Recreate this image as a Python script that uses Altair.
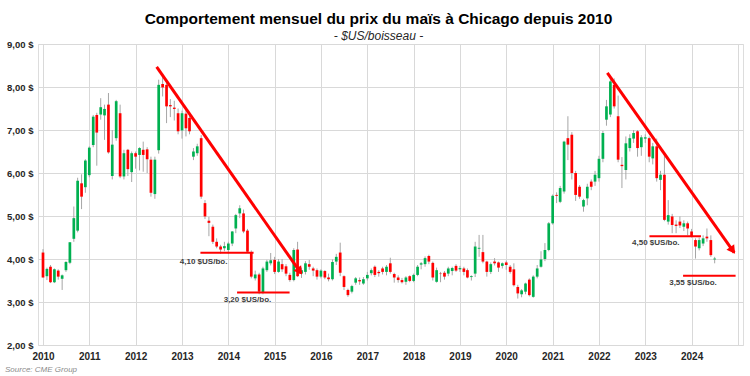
import math
import altair as alt
import pandas as pd

FONT = "Liberation Sans Narrow, Liberation Sans, Arial, sans-serif"

# ---------------- data (monthly OHLC, $US/boisseau, from Jan 2010) ----------------
start_month = "2010-01-01"

opens = [
    4.15, 3.60, 3.82, 3.46, 3.73, 3.54, 3.74, 3.91, 4.47, 4.66, 5.76, 5.67,
    5.95, 6.65, 7.35, 7.36, 7.34, 7.59, 5.93, 6.81, 7.39, 5.92, 6.54, 6.02,
    6.46, 6.42, 6.54, 6.55, 6.31, 5.51, 6.53, 8.07, 8.05, 7.58, 7.52, 7.39,
    6.99, 7.38, 7.28, 6.38, 6.46, 6.81, 5.30, 4.89, 4.75, 4.40, 4.29, 4.25,
    4.21, 4.36, 4.71, 5.06, 5.06, 4.66, 4.15, 3.55, 3.64, 3.22, 3.74, 3.90,
    3.98, 3.70, 3.88, 3.83, 3.63, 3.51, 4.22, 3.66, 3.70, 3.88, 3.78, 3.74,
    3.59, 3.72, 3.57, 3.53, 3.94, 4.15, 3.60, 3.28, 3.24, 3.45, 3.51, 3.43,
    3.55, 3.67, 3.82, 3.70, 3.78, 3.70, 3.90, 3.65, 3.57, 3.51, 3.47, 3.60,
    3.49, 3.63, 3.87, 3.88, 4.07, 3.91, 3.47, 3.66, 3.68, 3.66, 3.72, 3.84,
    3.76, 3.78, 3.74, 3.58, 3.66, 4.24, 4.16, 3.94, 3.70, 3.94, 3.92, 3.84,
    3.92, 3.82, 3.76, 3.35, 3.18, 3.24, 3.52, 3.12, 3.59, 3.82, 4.00, 4.21,
    4.83, 5.49, 5.33, 5.57, 6.81, 6.89, 6.00, 5.68, 5.22, 5.41, 5.80, 5.80,
    5.88, 6.33, 7.24, 7.36, 8.05, 7.32, 6.19, 6.07, 6.58, 6.80, 6.97, 6.60,
    6.80, 6.81, 6.34, 6.62, 5.84, 5.96, 4.87, 4.99, 4.80, 4.87, 4.75, 4.83,
    4.64, 4.44, 4.25, 4.36, 4.52, 4.44, 3.99,
]
highs = [
    4.23, 3.80, 3.86, 3.78, 3.76, 3.64, 3.95, 4.39, 5.22, 5.89, 5.97, 6.32,
    6.62, 7.35, 7.40, 7.74, 7.59, 7.86, 7.00, 7.70, 7.59, 6.54, 6.56, 6.50,
    6.50, 6.60, 6.73, 6.60, 6.38, 6.38, 8.17, 8.30, 8.10, 7.72, 7.68, 7.50,
    7.45, 7.46, 7.35, 6.58, 6.68, 6.88, 5.37, 4.98, 4.80, 4.48, 4.33, 4.40,
    4.40, 4.65, 5.05, 5.25, 5.15, 4.70, 4.20, 3.73, 3.68, 3.82, 3.98, 4.14,
    4.05, 4.00, 4.00, 3.88, 3.68, 4.25, 4.40, 3.80, 3.95, 3.98, 3.82, 3.78,
    3.76, 3.74, 3.66, 3.99, 4.12, 4.38, 3.62, 3.31, 3.40, 3.58, 3.57, 3.58,
    3.70, 3.78, 3.85, 3.74, 3.82, 3.86, 4.03, 3.68, 3.62, 3.56, 3.60, 3.62,
    3.66, 3.86, 3.93, 4.06, 4.10, 3.94, 3.80, 3.70, 3.72, 3.82, 3.82, 3.88,
    3.84, 3.82, 3.78, 3.62, 4.40, 4.56, 4.56, 3.96, 3.92, 4.02, 3.94, 3.92,
    3.96, 3.86, 3.90, 3.40, 3.30, 3.45, 3.55, 3.62, 3.86, 4.18, 4.37, 4.86,
    5.50, 5.55, 5.70, 6.75, 7.32, 6.95, 6.05, 5.72, 5.40, 5.75, 5.85, 6.05,
    6.40, 6.98, 7.70, 8.20, 8.20, 7.80, 6.37, 6.85, 6.90, 7.00, 7.00, 6.88,
    6.90, 6.85, 6.70, 6.80, 6.05, 6.45, 5.37, 5.05, 4.90, 4.99, 4.90, 4.87,
    4.70, 4.48, 4.50, 4.55, 4.71, 4.55, 4.05,
]
lows = [
    3.57, 3.51, 3.44, 3.44, 3.52, 3.28, 3.70, 3.88, 4.40, 4.62, 5.16, 5.54,
    5.90, 6.60, 6.17, 7.24, 6.77, 6.45, 5.85, 6.75, 5.88, 5.85, 5.93, 5.79,
    6.10, 6.06, 6.03, 6.00, 5.45, 5.40, 6.45, 7.78, 7.16, 7.30, 7.22, 6.90,
    6.80, 6.85, 6.90, 6.30, 6.40, 5.40, 4.93, 4.53, 4.35, 4.25, 4.12, 4.18,
    4.12, 4.30, 4.60, 4.95, 4.60, 4.15, 3.55, 3.50, 3.18, 3.18, 3.70, 3.85,
    3.65, 3.68, 3.70, 3.60, 3.47, 3.48, 3.58, 3.56, 3.64, 3.75, 3.60, 3.52,
    3.55, 3.53, 3.48, 3.50, 3.86, 3.60, 3.28, 3.12, 3.20, 3.40, 3.40, 3.40,
    3.50, 3.62, 3.58, 3.59, 3.64, 3.62, 3.66, 3.45, 3.45, 3.43, 3.40, 3.46,
    3.46, 3.60, 3.76, 3.82, 3.88, 3.50, 3.45, 3.46, 3.52, 3.60, 3.62, 3.70,
    3.70, 3.62, 3.55, 3.50, 3.58, 4.05, 3.90, 3.59, 3.65, 3.85, 3.70, 3.78,
    3.75, 3.66, 3.36, 3.08, 3.11, 3.18, 3.13, 3.10, 3.55, 3.80, 3.95, 4.18,
    4.80, 5.30, 5.30, 5.52, 6.30, 5.85, 5.35, 5.40, 5.10, 5.25, 5.60, 5.70,
    5.80, 6.25, 7.10, 7.30, 7.50, 6.25, 5.65, 5.85, 6.50, 6.70, 6.38, 6.40,
    6.70, 6.25, 6.20, 5.80, 5.60, 4.88, 4.80, 4.60, 4.60, 4.72, 4.65, 4.55,
    4.50, 4.01, 4.20, 4.30, 4.40, 4.05, 3.90,
]
closes = [
    3.57, 3.77, 3.46, 3.76, 3.59, 3.62, 3.93, 4.39, 4.95, 5.82, 5.45, 6.29,
    6.59, 7.31, 6.94, 7.53, 7.49, 6.48, 6.66, 7.67, 5.92, 6.46, 6.09, 6.46,
    6.38, 6.58, 6.42, 6.32, 5.54, 6.31, 8.05, 7.99, 7.55, 7.55, 7.49, 6.97,
    7.39, 7.04, 6.97, 6.50, 6.62, 5.45, 4.99, 4.84, 4.40, 4.29, 4.22, 4.30,
    4.36, 4.64, 5.02, 5.18, 4.64, 4.17, 3.59, 3.64, 3.24, 3.78, 3.94, 3.97,
    3.70, 3.94, 3.76, 3.66, 3.51, 4.21, 3.60, 3.74, 3.90, 3.82, 3.73, 3.59,
    3.73, 3.57, 3.53, 3.93, 4.05, 3.68, 3.35, 3.16, 3.37, 3.55, 3.48, 3.53,
    3.63, 3.74, 3.63, 3.67, 3.70, 3.82, 3.70, 3.57, 3.51, 3.46, 3.57, 3.49,
    3.63, 3.82, 3.90, 4.02, 3.94, 3.57, 3.74, 3.65, 3.59, 3.78, 3.79, 3.73,
    3.79, 3.70, 3.57, 3.60, 4.29, 4.26, 3.94, 3.70, 3.88, 3.90, 3.80, 3.90,
    3.86, 3.70, 3.39, 3.20, 3.27, 3.43, 3.16, 3.59, 3.78, 3.99, 4.21, 4.83,
    5.47, 5.47, 5.65, 6.73, 6.66, 6.00, 5.49, 5.45, 5.37, 5.68, 5.68, 5.96,
    6.33, 6.93, 7.55, 8.13, 7.55, 6.31, 6.16, 6.69, 6.81, 6.93, 6.58, 6.83,
    6.83, 6.38, 6.62, 5.88, 5.96, 4.91, 5.02, 4.79, 4.77, 4.78, 4.83, 4.71,
    4.52, 4.29, 4.44, 4.48, 4.48, 4.09, 4.01,
]

# trend arrows (start / end)
trend_ids = ["t1", "t1", "t2", "t2"]
trend_dates = ["2012-06-15", "2015-07-29", "2022-03-08", "2024-12-02"]
trend_prices = [8.47, 3.665, 8.33, 4.15]

# support lines
support_start = ["2013-05-26", "2014-03-11", "2023-02-03", "2023-10-26"]
support_end = ["2014-07-19", "2015-04-29", "2024-03-15", "2024-12-13"]
support_prices = [4.145, 3.22, 4.53, 3.61]

# annotations
label_texts = ["4,10 $US/bo.", "3,20 $US/bo.", "4,50 $US/bo.", "3,55 $US/bo."]
label_dates = ["2013-06-20", "2014-06-01", "2023-03-25", "2024-01-12"]
label_prices = [3.935, 3.058, 4.378, 3.445]

y_ticks = [2, 3, 4, 5, 6, 7, 8, 9]
x_years = list(range(2010, 2026))

# ---------------- layout ----------------
W, H = 705, 301
X0, X1 = pd.Timestamp("2010-01-01"), pd.Timestamp("2025-01-01")
Y0, Y1 = 2, 9

dates = pd.date_range(start_month, periods=len(opens), freq="MS")
df = pd.DataFrame({"date": dates, "open": opens, "high": highs,
                   "low": lows, "close": closes})
df["dir"] = ["up" if c >= o else "down" for o, c in zip(opens, closes)]

xscale = alt.Scale(domain=[alt.DateTime(year=2010, month=1, date=1),
                           alt.DateTime(year=2025, month=1, date=1)])
yscale = alt.Scale(domain=[Y0, Y1], nice=False, zero=False)

x_axis = alt.Axis(
    values=[alt.DateTime(year=y, month=1, date=1) for y in x_years],
    labelExpr="year(datum.value) < 2025 ? timeFormat(datum.value, '%Y') : ''",
    grid=True, gridColor="#d9d9d9", gridWidth=1, domain=False, ticks=False,
    labelFont=FONT, labelFontSize=10, labelFontWeight="bold",
    labelColor="#262626", labelPadding=6, title=None, labelFlush=False,
)
y_axis = alt.Axis(
    values=y_ticks,
    labelExpr="replace(format(datum.value, '.2f'), '.', ',') + ' $'",
    grid=True, gridColor="#d9d9d9", gridWidth=1, domain=False, ticks=False,
    labelFont=FONT, labelFontSize=9.5, labelFontWeight="bold",
    labelColor="#262626", labelPadding=5, title=None,
)

base = alt.Chart(df)

wicks = base.mark_rule(color="#a6a6a6", strokeWidth=1).encode(
    x=alt.X("date:T", scale=xscale, axis=x_axis),
    y=alt.Y("low:Q", scale=yscale, axis=y_axis),
    y2="high:Q",
)
bodies = base.mark_bar(size=2.7).encode(
    x=alt.X("date:T", scale=xscale),
    y=alt.Y("open:Q", scale=yscale),
    y2="close:Q",
    color=alt.Color("dir:N", scale=alt.Scale(domain=["up", "down"],
                                             range=["#00b050", "#ff0000"]),
                    legend=None),
)

sup_df = pd.DataFrame({"start": pd.to_datetime(support_start),
                       "end": pd.to_datetime(support_end),
                       "price": support_prices})
supports = alt.Chart(sup_df).mark_rule(color="#ff0000", strokeWidth=2).encode(
    x=alt.X("start:T", scale=xscale), x2="end:T",
    y=alt.Y("price:Q", scale=yscale),
)

tr_df = pd.DataFrame({"id": trend_ids, "date": pd.to_datetime(trend_dates),
                      "price": trend_prices})
trends = alt.Chart(tr_df).mark_line(color="#ff0000", strokeWidth=3).encode(
    x=alt.X("date:T", scale=xscale), y=alt.Y("price:Q", scale=yscale),
    detail="id:N",
)

# arrow heads near the ends of the trend lines
span_days = (X1 - X0).days
heads = []
for i in (0, 2):
    d0, d1 = pd.Timestamp(trend_dates[i]), pd.Timestamp(trend_dates[i + 1])
    p0, p1 = trend_prices[i], trend_prices[i + 1]
    dx = (d1 - d0).days / span_days * W
    dy = -(p1 - p0) / (Y1 - Y0) * H
    length = math.hypot(dx, dy)
    t = 1 - 4.0 / length
    heads.append({"date": d0 + (d1 - d0) * t, "price": p0 + (p1 - p0) * t,
                  "angle": math.degrees(math.atan2(dy, dx)) + 90})
head_df = pd.DataFrame(heads)
arrowheads = alt.Chart(head_df).mark_point(
    shape="triangle", filled=True, color="#ff0000", opacity=1, size=90,
).encode(
    x=alt.X("date:T", scale=xscale), y=alt.Y("price:Q", scale=yscale),
    angle=alt.Angle("angle:Q", scale=None),
)

lab_df = pd.DataFrame({"text": label_texts, "date": pd.to_datetime(label_dates),
                       "price": label_prices})
labels = alt.Chart(lab_df).mark_text(
    font=FONT, fontSize=8, fontWeight="bold", color="#404040", align="center",
    baseline="middle",
).encode(
    x=alt.X("date:T", scale=xscale), y=alt.Y("price:Q", scale=yscale),
    text="text:N",
)

source = alt.Chart(pd.DataFrame({"t": ["Source: CME Group"]})).mark_text(
    font=FONT, fontSize=8, fontStyle="italic", color="#8c8c8c", align="left",
    baseline="middle",
).encode(x=alt.value(-33), y=alt.value(326), text="t:N")

chart = alt.layer(wicks, bodies, supports, trends, arrowheads, labels, source).properties(
    width=W, height=H,
    autosize=alt.AutoSizeParams(type="none"),
    padding={"left": 38, "top": 44, "right": 7, "bottom": 31},
    title=alt.TitleParams(
        text="Comportement mensuel du prix du maïs à Chicago depuis 2010",
        subtitle="- $US/boisseau -",
        anchor="middle", frame="group", dx=-12, offset=-3,
        font=FONT, fontSize=15.5, fontWeight="bold", color="#000000",
        subtitleFont=FONT, subtitleFontSize=12, subtitleFontStyle="italic",
        subtitleColor="#262626", subtitlePadding=4,
    ),
).configure_view(stroke=None).configure(background="white")

chart.save("out.html", embed_options={"renderer": "svg", "actions": False})
